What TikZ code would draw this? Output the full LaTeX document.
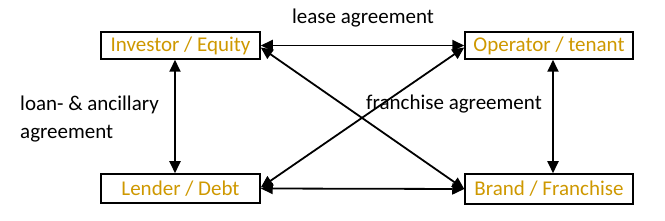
\documentclass[tikz,border=0pt]{standalone}
\usepackage{fontspec}
\setmainfont{Carlito}
\usetikzlibrary{arrows.meta}
\definecolor{gold}{RGB}{206,152,0}
\tikzset{
  party/.style={draw=black, line width=1.5pt, text=gold, inner sep=0pt, font=\fontsize{21}{25}\selectfont},
  link/.style={line width=1.8pt, {Triangle[length=12pt,width=11pt]}-{Triangle[length=12pt,width=11pt]}},
  lbl/.style={text=black, inner sep=0pt, font=\fontsize{21}{28}\selectfont}
}
\begin{document}
\begin{tikzpicture}[x=1pt,y=-1pt]
\useasboundingbox (0,0) rectangle (665,221);
\node[party, minimum width=159pt, minimum height=27pt] (inv) at (180.5,45.5) {Investor / Equity};
\node[party, minimum width=168pt, minimum height=27pt] (op) at (549,45.5) {Operator / tenant};
\node[party, minimum width=159pt, minimum height=29pt] (len) at (180.5,188.5) {Lender / Debt};
\node[party, minimum width=168pt, minimum height=30pt] (br) at (549,189) {Brand / Franchise};

\draw[link] (inv.east) -- (op.west);
\draw[link] (len.east) -- (br.west);
\draw[link] ([yshift=-2pt]inv.east) -- (br.west);
\draw[link] ([yshift=-2pt]op.west) -- ([yshift=1pt]len.east);
\draw[link] ([xshift=-5.5pt]inv.south) -- ([xshift=-5.5pt]len.north);
\draw[link] ([xshift=4pt]op.south) -- ([xshift=4pt]br.north);

\node[lbl] (lease) at (363,18) {lease agreement};
\node[lbl] (fr) at (454,104) {franchise agreement};
\node[lbl, anchor=west, align=left] (loan) at (20,119) {loan- \& ancillary\\agreement};
\end{tikzpicture}
\end{document}
